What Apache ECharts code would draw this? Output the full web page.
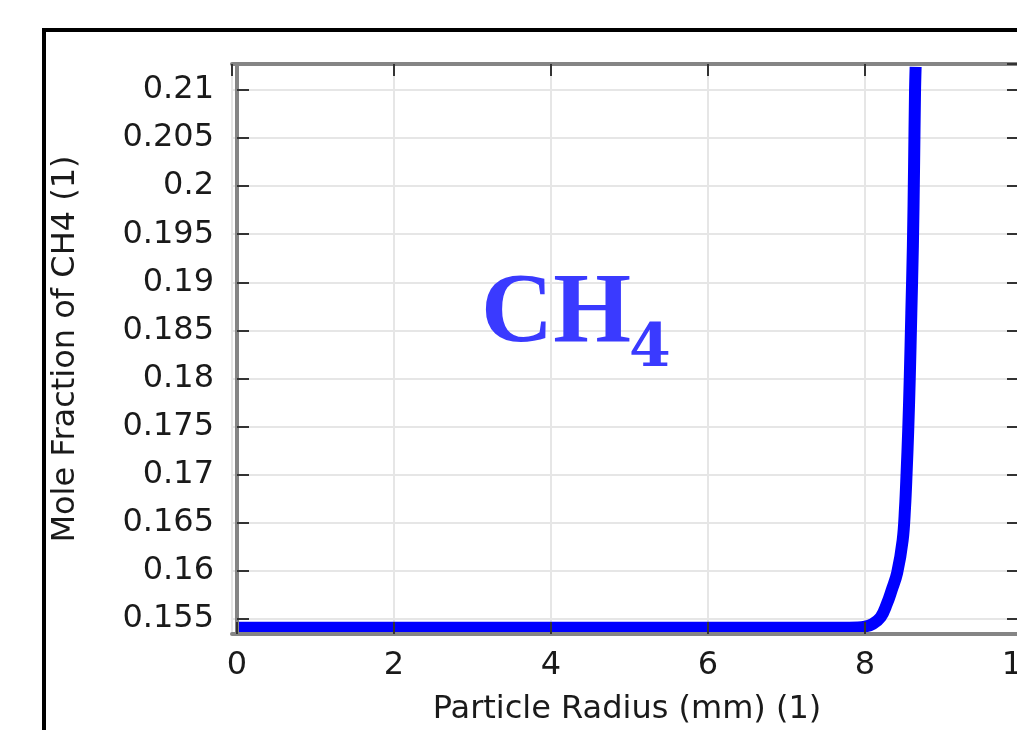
<!DOCTYPE html>
<html>
<head>
<meta charset="utf-8">
<script src="https://cdn.jsdelivr.net/npm/echarts@6/dist/echarts.min.js"></script>
<style>html,body{margin:0;padding:0;background:#fff;}#c{width:1017px;height:730px;}</style>
</head>
<body>
<div id="c"></div>
<script>
// Data
var radius = [0, 1, 2, 3, 4, 5, 6, 7, 7.5, 7.8, 8.0, 8.1, 8.2, 8.28, 8.34, 8.41, 8.48, 8.51, 8.53, 8.55, 8.57, 8.59, 8.61, 8.625, 8.637, 8.645];
var moleFraction = [0.1541, 0.1541, 0.1541, 0.1541, 0.1541, 0.1541, 0.1541, 0.1541, 0.1541, 0.1541, 0.1542, 0.1545, 0.1552, 0.1566, 0.1580, 0.1598, 0.1632, 0.1666, 0.1702, 0.1745, 0.1800, 0.1868, 0.1938, 0.2020, 0.2097, 0.2124];
var xTitle = 'Particle Radius (mm) (1)';
var yTitle = 'Mole Fraction of CH4 (1)';
var speciesMain = 'CH';
var speciesSub = '4';

var X_MIN = -0.0637, X_MAX = 10;
var Y_MIN = 0.15344, Y_MAX = 0.2127;

var points = radius.map(function (r, i) { return [r, moleFraction[i]]; });

var font = 'DejaVu Sans';
var axisLineStyle = { color: '#858585', width: 4 };
var tickStyle = { color: '#333333', width: 2 };
var gridLineStyle = { color: '#e6e6e6', width: 2 };

// main axes carry labels + ticks above the curve; opposite axes carry ticks + grid lines below the curve
function xAx(pos, main) {
  return {
    type: 'value', position: pos, min: X_MIN, max: X_MAX, splitNumber: 5,
    z: main ? 10 : 0,
    axisLine: { show: true, lineStyle: axisLineStyle },
    axisTick: { show: true, inside: true, length: 12, lineStyle: tickStyle },
    axisLabel: { show: main, fontFamily: font, fontSize: 32, color: '#1a1a1a', margin: 16, showMinLabel: false },
    splitLine: { show: !main, lineStyle: gridLineStyle },
    name: main ? xTitle : '', nameLocation: 'middle', nameGap: 60,
    nameTextStyle: { fontFamily: font, fontSize: 32, color: '#1a1a1a' }
  };
}
function yAx(main) {
  return {
    type: 'value', position: 'left', min: Y_MIN, max: Y_MAX, splitNumber: 12,
    // the opposite (right-hand) frame side: a left-type axis shifted to the plot's right edge
    offset: main ? 0 : -787,
    z: main ? 10 : 0,
    axisLine: { show: true, lineStyle: axisLineStyle },
    axisTick: { show: true, inside: main, length: 12, lineStyle: tickStyle },
    axisLabel: { show: main, fontFamily: font, fontSize: 32, color: '#1a1a1a', margin: 18, showMinLabel: false, showMaxLabel: false },
    splitLine: { show: !main, lineStyle: gridLineStyle },
    name: main ? yTitle : '', nameLocation: 'middle', nameGap: 150,
    nameTextStyle: { fontFamily: font, fontSize: 32, color: '#1a1a1a' }
  };
}

var chart = echarts.init(document.getElementById('c'), null, { renderer: 'canvas' });
chart.setOption({
  animation: false,
  backgroundColor: '#ffffff',
  grid: { left: 232, top: 64, width: 790, height: 570, containLabel: false, outerBoundsMode: 'none' },
  xAxis: [xAx('bottom', true), xAx('top', false)],
  yAxis: [yAx(true), yAx(false)],
  graphic: [
    { type: 'rect', z: 100, shape: { x: 44, y: 30, width: 2000, height: 2000 }, style: { fill: 'none', stroke: '#000000', lineWidth: 4 } },
    { type: 'text', z: 100, x: 481, y: 315, style: { text: speciesMain, fontFamily: 'Liberation Serif', fontWeight: 'bold', fontSize: 100, fill: '#3a3aff', align: 'left', verticalAlign: 'middle' } },
    { type: 'text', z: 100, x: 629, y: 350, style: { text: speciesSub, fontFamily: 'DejaVu Serif', fontWeight: 'bold', fontSize: 60, fill: '#3a3aff', align: 'left', verticalAlign: 'middle' } }
  ],
  series: [{
    type: 'line', xAxisIndex: 0, yAxisIndex: 0, data: points,
    showSymbol: false, smooth: 0.4, z: 5,
    lineStyle: { color: '#0000ff', width: 12, join: 'round' }
  }]
});
</script>
</body>
</html>
